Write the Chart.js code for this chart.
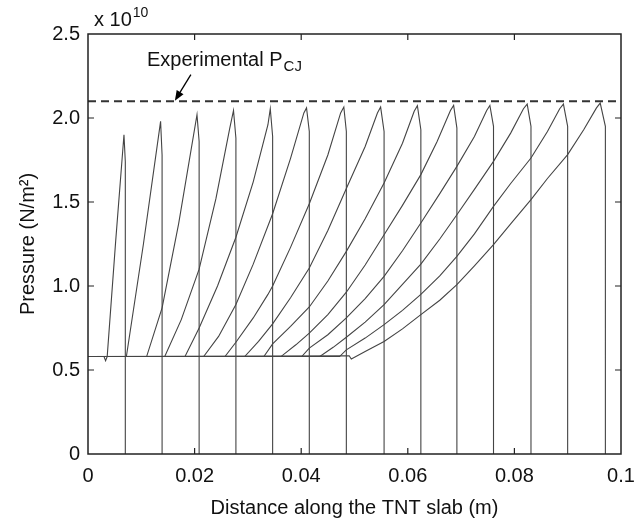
<!DOCTYPE html>
<html>
<head>
<meta charset="utf-8">
<script src="https://cdn.jsdelivr.net/npm/chart.js@4.4.0/dist/chart.umd.min.js"></script>
<style>
  html, body { margin: 0; background: #fff; }
</style>
</head>
<body>
<canvas id="c" width="637" height="528"></canvas>
<script>
// pressure pulses along the slab, [x (m), p (x 1e10 N/m2)]
const pulse1 = [[0,0.58],[0.0030,0.58],[0.0033,0.555],[0.0036,0.58],[0.0052,1.27],[0.00675,1.90],[0.0070,1.74],[0.0070,0]];
const pulse2 = [[0,0.58],[0.0072,0.58],[0.0104,1.25],[0.01362,1.98],[0.0139,1.78],[0.0139,0]];
const pulse3 = [[0,0.58],[0.0110,0.58],[0.0139,0.87],[0.0170,1.37],[0.02045,2.02],[0.02085,1.86],[0.02085,0]];
const pulse4 = [[0,0.58],[0.0144,0.58],[0.0175,0.80],[0.02085,1.10],[0.0240,1.52],[0.0266,1.94],[0.0273,2.045],[0.02775,1.88],[0.02775,0]];
const pulse5 = [[0,0.58],[0.0182,0.58],[0.02085,0.75],[0.0243,1.00],[0.02775,1.29],[0.0310,1.62],[0.03376,1.96],[0.0342,2.055],[0.03464,1.89],[0.03464,0]];
const pulse6 = [[0,0.58],[0.0217,0.58],[0.0245,0.70],[0.02775,0.89],[0.0310,1.13],[0.03464,1.43],[0.0380,1.76],[0.0405,2.03],[0.0410,2.06],[0.04152,1.92],[0.04152,0]];
const pulse7 = [[0,0.58],[0.0257,0.58],[0.02775,0.665],[0.0310,0.81],[0.03376,0.95],[0.03464,1.00],[0.0380,1.23],[0.04152,1.49],[0.0450,1.78],[0.0474,2.03],[0.0480,2.065],[0.04847,1.92],[0.04847,0]];
const pulse8 = [[0,0.58],[0.0294,0.58],[0.0320,0.67],[0.03464,0.775],[0.0380,0.93],[0.04152,1.107],[0.0450,1.33],[0.04847,1.58],[0.0520,1.83],[0.0543,2.03],[0.0549,2.065],[0.05555,1.92],[0.05555,0]];
const pulse9 = [[0,0.58],[0.0330,0.58],[0.03464,0.655],[0.0380,0.76],[0.04152,0.875],[0.0450,1.03],[0.04847,1.206],[0.0520,1.40],[0.05555,1.613],[0.0590,1.85],[0.0612,2.04],[0.0618,2.073],[0.06245,1.93],[0.06245,0]];
const pulse10 = [[0,0.58],[0.0362,0.58],[0.0390,0.65],[0.04152,0.72],[0.0450,0.83],[0.04847,0.963],[0.0520,1.125],[0.05555,1.305],[0.0590,1.48],[0.06245,1.663],[0.0655,1.86],[0.0680,2.045],[0.0686,2.075],[0.06921,1.94],[0.06921,0]];
const pulse11 = [[0,0.58],[0.0401,0.58],[0.04152,0.63],[0.0450,0.71],[0.04847,0.81],[0.0520,0.925],[0.05555,1.057],[0.0590,1.21],[0.06245,1.375],[0.0660,1.55],[0.06921,1.712],[0.0725,1.89],[0.0748,2.045],[0.0754,2.075],[0.07608,1.95],[0.07608,0]];
const pulse12 = [[0,0.58],[0.0435,0.58],[0.0460,0.635],[0.04847,0.695],[0.0520,0.785],[0.05555,0.889],[0.0590,1.01],[0.06245,1.13],[0.0660,1.28],[0.06921,1.424],[0.0725,1.575],[0.07608,1.742],[0.0793,1.91],[0.0817,2.055],[0.0824,2.083],[0.08311,1.95],[0.08311,0]];
const pulse13 = [[0,0.58],[0.0472,0.58],[0.04847,0.62],[0.0520,0.69],[0.05555,0.77],[0.0590,0.855],[0.06245,0.95],[0.0660,1.06],[0.06921,1.176],[0.0725,1.31],[0.07608,1.474],[0.0793,1.61],[0.08311,1.762],[0.0862,1.92],[0.0885,2.055],[0.0892,2.083],[0.08999,1.95],[0.08999,0]];
const pulse14 = [[0,0.58],[0.0490,0.585],[0.0494,0.565],[0.0520,0.61],[0.05555,0.67],[0.0590,0.745],[0.06245,0.83],[0.0660,0.915],[0.06921,1.008],[0.0725,1.12],[0.07608,1.246],[0.0793,1.37],[0.08311,1.514],[0.0862,1.64],[0.08999,1.782],[0.0930,1.93],[0.0954,2.06],[0.0961,2.089],[0.09707,1.95],[0.09707,0]];

const pulses = [pulse1, pulse2, pulse3, pulse4, pulse5, pulse6, pulse7, pulse8, pulse9, pulse10, pulse11, pulse12, pulse13, pulse14];

// experimental CJ pressure line
const pcjX = [0, 0.1];
const pcjY = [2.1, 2.1];

const xTicks = [0, 0.02, 0.04, 0.06, 0.08, 0.1];
const yTicks = [0, 0.5, 1.0, 1.5, 2.0, 2.5];

const FONT = '"Liberation Sans", Arial, Helvetica, sans-serif';

let datasets = pulses.map(p => ({
  data: p.map(pt => ({x: pt[0], y: pt[1]})),
  borderColor: '#444',
  borderWidth: 1.1,
  pointRadius: 0,
  tension: 0,
  fill: false
}));
datasets.push({
  data: pcjX.map((v, i) => ({x: v, y: pcjY[i]})),
  borderColor: '#333',
  borderWidth: 2,
  borderDash: [8, 5],
  pointRadius: 0,
  fill: false
});

// box, inward ticks and the text bits drawn on top
const frame = {
  id: 'frame',
  afterDatasetsDraw(chart) {
    const {ctx, chartArea: a, scales} = chart;
    const x = scales.x, y = scales.y;
    ctx.save();
    ctx.strokeStyle = '#222';
    ctx.lineWidth = 1.5;
    ctx.strokeRect(a.left, a.top, a.right - a.left, a.bottom - a.top);

    ctx.lineWidth = 1.2;
    ctx.beginPath();
    xTicks.slice(1, -1).forEach(v => {
      const px = x.getPixelForValue(v);
      ctx.moveTo(px, a.bottom); ctx.lineTo(px, a.bottom - 6);
      ctx.moveTo(px, a.top); ctx.lineTo(px, a.top + 6);
    });
    yTicks.slice(1, -1).forEach(v => {
      const py = y.getPixelForValue(v);
      ctx.moveTo(a.left, py); ctx.lineTo(a.left + 6, py);
      ctx.moveTo(a.right, py); ctx.lineTo(a.right - 6, py);
    });
    ctx.stroke();

    // arrow to the dashed line
    const x0 = x.getPixelForValue(0.0193), y0 = y.getPixelForValue(2.258);
    const x1 = x.getPixelForValue(0.0163), y1 = y.getPixelForValue(2.103);
    const ang = Math.atan2(y1 - y0, x1 - x0);
    ctx.strokeStyle = '#000';
    ctx.lineWidth = 1.3;
    ctx.beginPath();
    ctx.moveTo(x0, y0);
    ctx.lineTo(x1 - 8 * Math.cos(ang), y1 - 8 * Math.sin(ang));
    ctx.stroke();
    ctx.fillStyle = '#000';
    ctx.beginPath();
    ctx.moveTo(x1, y1);
    ctx.lineTo(x1 - 10 * Math.cos(ang) + 4 * Math.sin(ang), y1 - 10 * Math.sin(ang) - 4 * Math.cos(ang));
    ctx.lineTo(x1 - 10 * Math.cos(ang) - 4 * Math.sin(ang), y1 - 10 * Math.sin(ang) + 4 * Math.cos(ang));
    ctx.closePath();
    ctx.fill();

    // Experimental P_CJ
    ctx.fillStyle = '#111';
    ctx.textBaseline = 'alphabetic';
    ctx.textAlign = 'left';
    ctx.font = '20px ' + FONT;
    const main = 'Experimental P';
    const w1 = ctx.measureText(main).width;
    ctx.font = '15px ' + FONT;
    const w2 = ctx.measureText('CJ').width;
    const cx = x.getPixelForValue(0.0255), by = y.getPixelForValue(2.307);
    const sx = cx - (w1 + w2) / 2;
    ctx.font = '20px ' + FONT;
    ctx.fillText(main, sx, by);
    ctx.font = '15px ' + FONT;
    ctx.fillText('CJ', sx + w1 + 1, by + 5);

    // exponent label
    ctx.font = '20px ' + FONT;
    const lx = a.left + 6, ly = a.top - 8;
    ctx.fillText('x 10', lx, ly);
    const w3 = ctx.measureText('x 10').width;
    ctx.font = '14px ' + FONT;
    ctx.fillText('10', lx + w3 + 1, ly - 9);
    ctx.restore();
  }
};

new Chart(document.getElementById('c'), {
  type: 'line',
  data: {datasets: datasets},
  options: {
    responsive: false,
    animation: false,
    parsing: true,
    layout: {padding: {top: 34, right: 16, left: 0, bottom: 0}},
    plugins: {legend: {display: false}, tooltip: {enabled: false}},
    scales: {
      x: {
        type: 'linear',
        min: 0, max: 0.1,
        afterBuildTicks: s => { s.ticks = xTicks.map(v => ({value: v})); },
        afterFit: s => { s.height = 74; s.paddingLeft = 0; s.paddingRight = 0; },
        grid: {display: false, drawTicks: false},
        border: {display: false},
        ticks: {
          padding: 10,
          color: '#111',
          font: {family: FONT, size: 20},
          callback: v => (v === 0 ? '0' : Math.abs(v - 0.1) < 1e-9 ? '0.1' : v.toFixed(2))
        },
        title: {
          display: true,
          text: 'Distance along the TNT slab (m)',
          color: '#111',
          font: {family: FONT, size: 20},
          padding: {top: 0, bottom: 8}
        }
      },
      y: {
        type: 'linear',
        min: 0, max: 2.5,
        afterBuildTicks: s => { s.ticks = yTicks.map(v => ({value: v})); },
        afterFit: s => { s.width = 88; s.paddingTop = 0; s.paddingBottom = 0; },
        grid: {display: false, drawTicks: false},
        border: {display: false},
        ticks: {
          padding: 8,
          color: '#111',
          font: {family: FONT, size: 20},
          callback: v => (v === 0 ? '0' : v.toFixed(1))
        },
        title: {
          display: true,
          text: 'Pressure (N/m²)',
          color: '#111',
          font: {family: FONT, size: 20},
          padding: {top: 16, bottom: 0}
        }
      }
    }
  },
  plugins: [frame]
});
</script>
</body>
</html>
